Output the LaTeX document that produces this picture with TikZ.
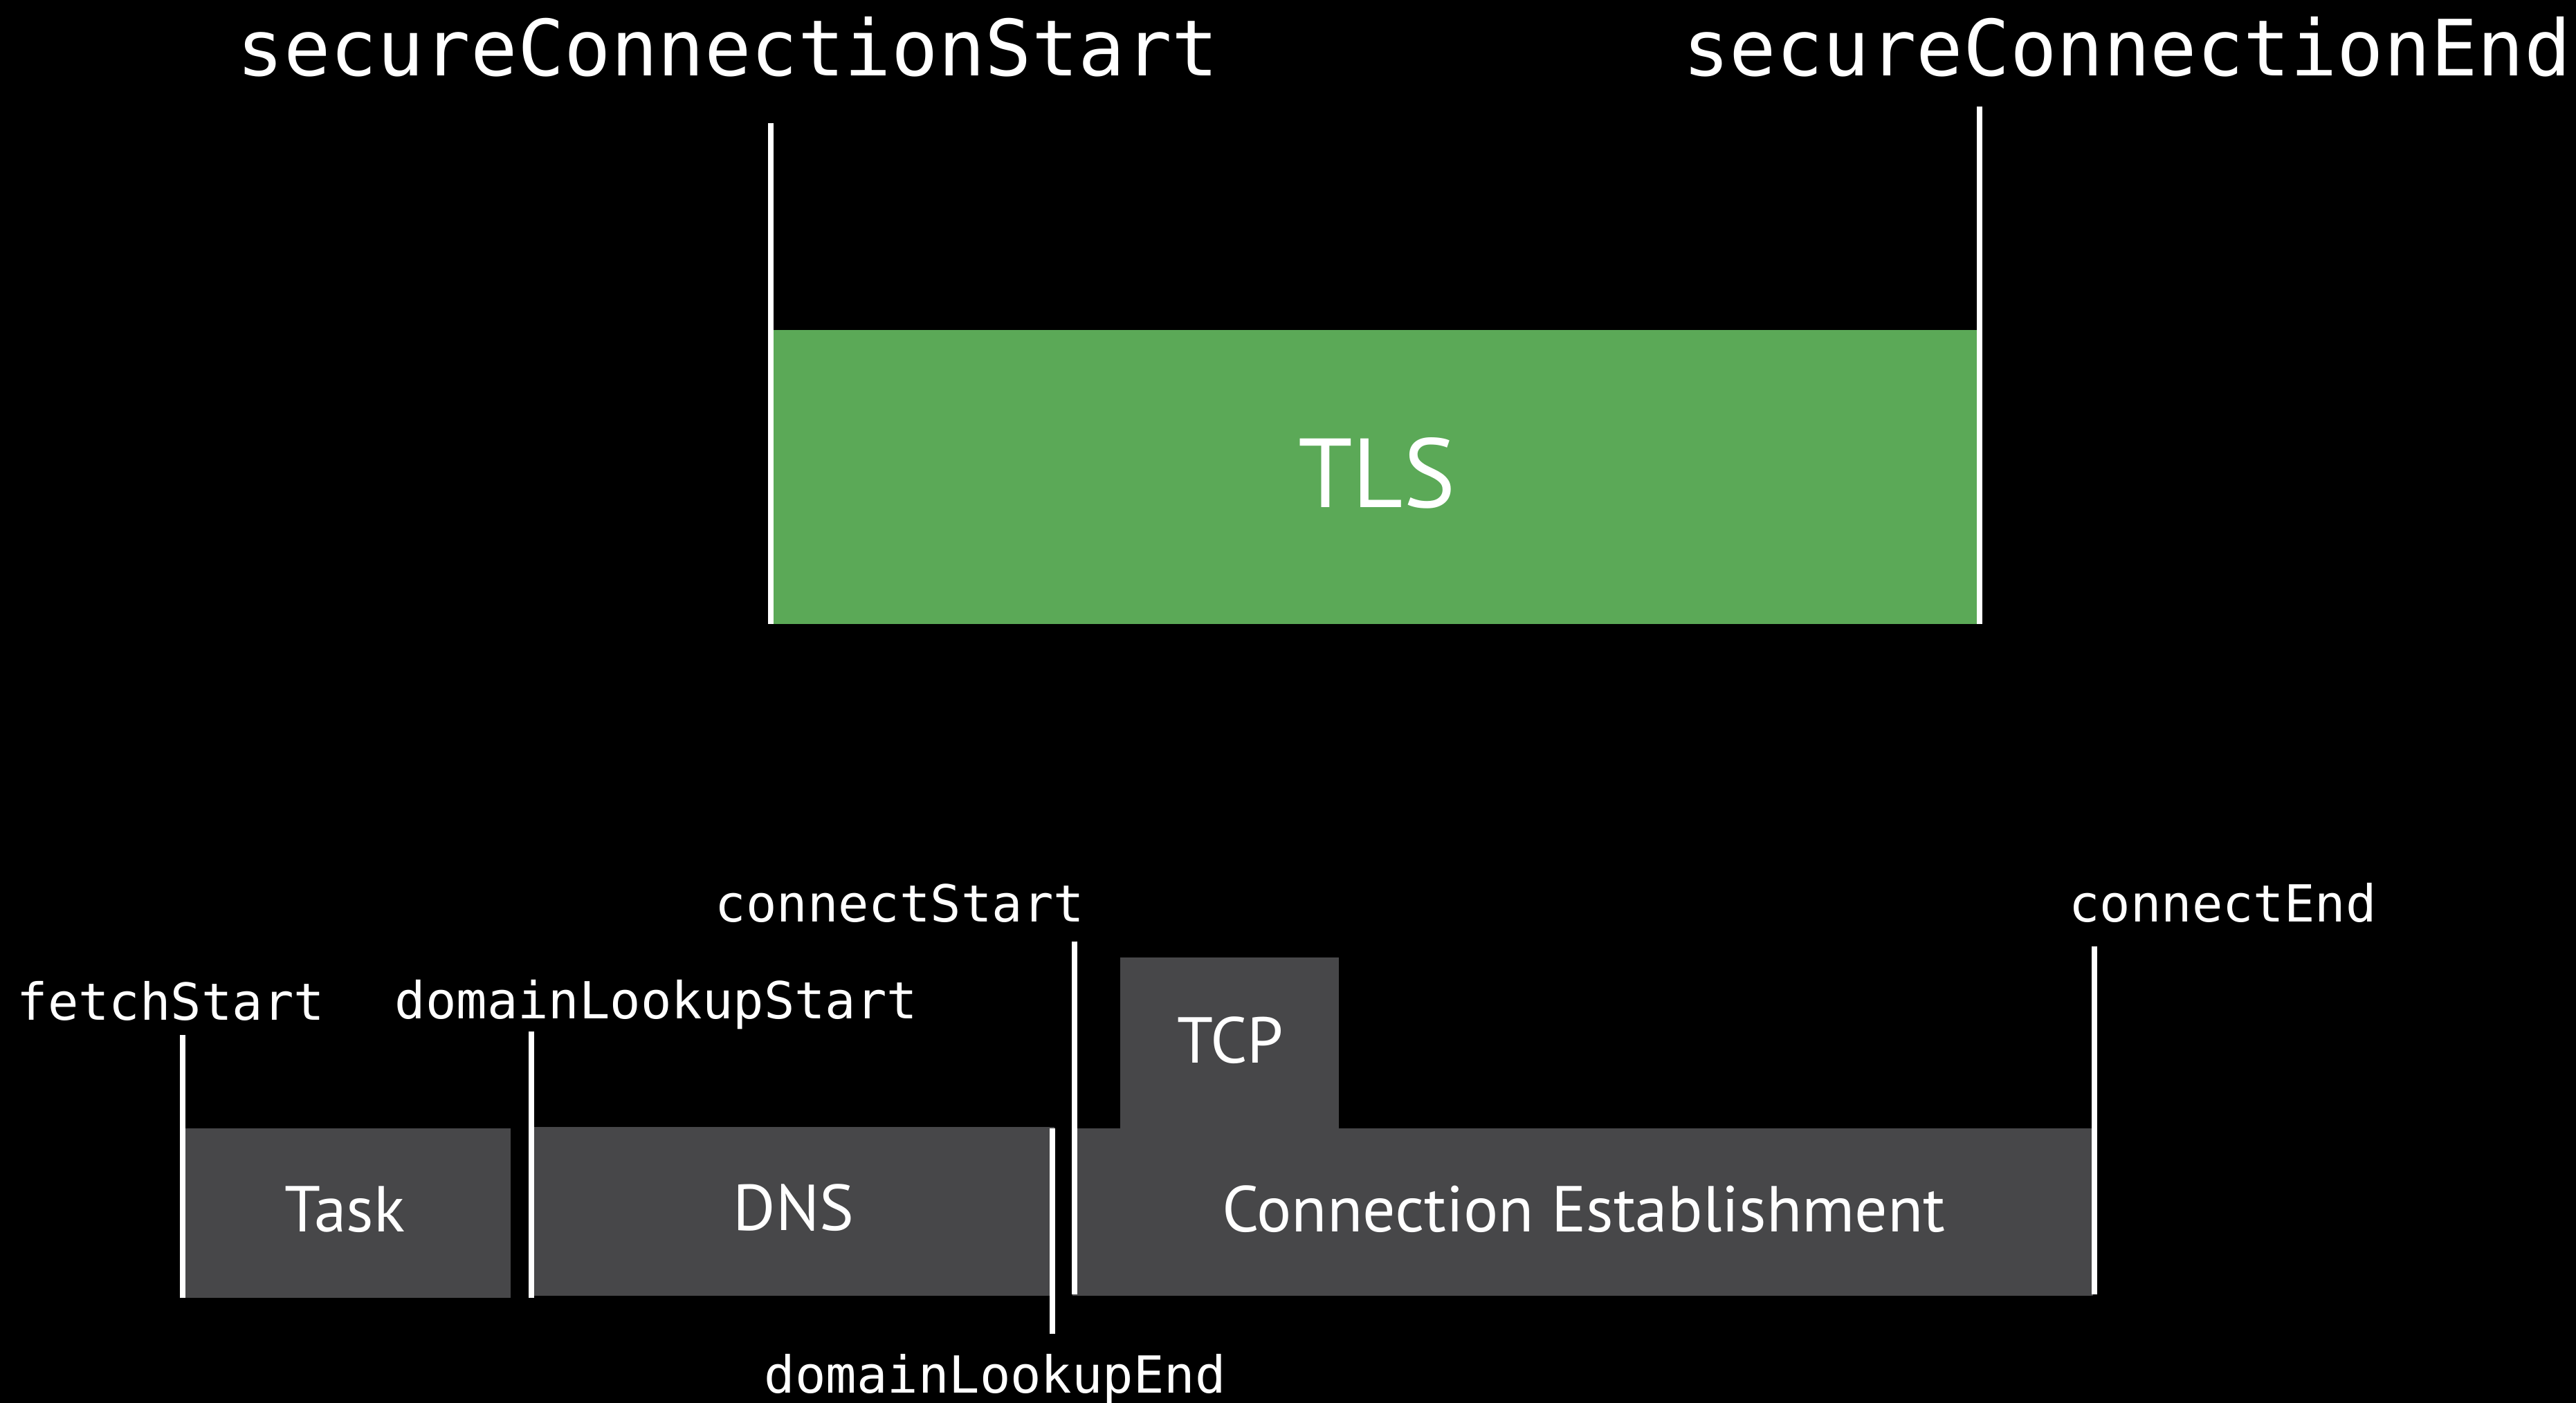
\documentclass[tikz,border=0pt]{standalone}
\usepackage{fontspec}
\setmainfont{PT Sans}
\setmonofont{DejaVu Sans Mono}
\usepackage{tikz}
\definecolor{tlsgreen}{RGB}{91,169,87}
\definecolor{phasegray}{RGB}{71,71,73}
\tikzset{
  tick line/.style={draw=white, line width=1.9pt},
  stamp/.style={text=white, inner sep=0pt, anchor=base west, font=\ttfamily\fontsize{17.7}{20}\selectfont},
  bigstamp/.style={stamp, font=\ttfamily\fontsize{26.9}{30}\selectfont},
  phase/.style={text=white, inner sep=0pt, anchor=base, font=\fontsize{22.5}{26}\selectfont},
}

\begin{document}
\begin{tikzpicture}[x=0.02cm, y=-0.02cm]
    		\fill[black] (0,0) rectangle (1568,854);
    		\useasboundingbox (0,0) rectangle (1568,854);
    		
    		% TLS
    		\fill[tlsgreen] (470,201) rectangle (1206,380);
    		\node[phase, font=\fontsize{34}{40}\selectfont] (tls) at (838,309) {TLS};
    		\node[bigstamp] (scstart) at (144,46) {secureConnectionStart};
    		\node[bigstamp] (scend) at (1024,46) {secureConnectionEnd};
    		
    		% phases
    		\fill[phasegray] (111,687) rectangle (311,790);
    		\fill[phasegray] (325,686) rectangle (642,789);
    		\fill[phasegray] (653,687) rectangle (1274,789);
    		\fill[phasegray] (682,583) rectangle (815,688);
    		\node[phase] (task) at (210,750) {Task};
    		\node[phase] (dns) at (483,749) {DNS};
    		\node[phase] (tcp) at (749,647) {TCP};
    		\node[phase] (conn) at (964,750) {Connection Establishment};
    		
    		\node[stamp] (fetch) at (10,621) {fetchStart};
    		\node[stamp] (dlstart) at (240,620) {domainLookupStart};
    		\node[stamp] (dlend) at (465,848) {domainLookupEnd};
    		\node[stamp] (cstart) at (435,561) {connectStart};
    		\node[stamp] (cend) at (1259,561) {connectEnd};
    		
    		\coordinate (scstart-t) at (469,75);
    		\coordinate (scstart-b) at (469,380);
    		\coordinate (scend-t) at (1205,65);
    		\coordinate (scend-b) at (1205,380);
    		\coordinate (fetch-t) at (111,630);
    		\coordinate (fetch-b) at (111,790);
    		\coordinate (dlstart-t) at (323.6,628);
    		\coordinate (dlstart-b) at (323.6,790);
    		\coordinate (dlend-t) at (640.4,687);
    		\coordinate (dlend-b) at (640.4,812);
    		\coordinate (cstart-t) at (654,573);
    		\coordinate (cstart-b) at (654,788);
    		\coordinate (cend-t) at (1275,576);
    		\coordinate (cend-b) at (1275,788);
    		
    		\draw[tick line] (scstart-t) -- (scstart-b);
    		\draw[tick line] (scend-t) -- (scend-b);
    		\draw[tick line] (fetch-t) -- (fetch-b);
    		\draw[tick line] (dlstart-t) -- (dlstart-b);
    		\draw[tick line] (dlend-t) -- (dlend-b);
    		\draw[tick line] (cstart-t) -- (cstart-b);
    		\draw[tick line] (cend-t) -- (cend-b);
    	\end{tikzpicture}
\end{document}
